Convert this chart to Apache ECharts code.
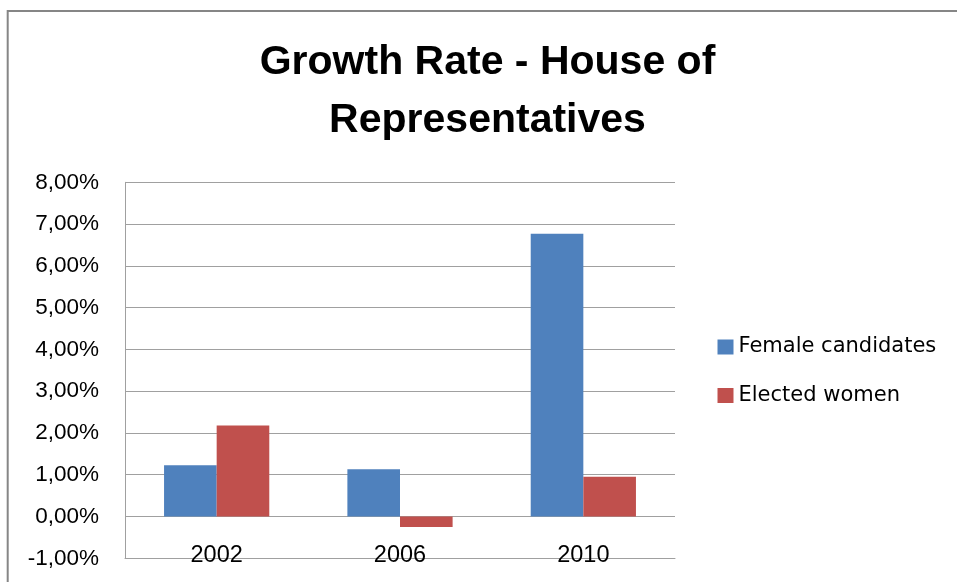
<!DOCTYPE html>
<html>
<head>
<meta charset="utf-8">
<title>Growth Rate - House of Representatives</title>
<script src="https://cdn.jsdelivr.net/npm/echarts@6/dist/echarts.min.js"></script>
<style>
  html, body { margin: 0; padding: 0; background: #ffffff; }
  #chart { width: 957px; height: 582px; }
</style>
</head>
<body>
<div id="chart"></div>
<script>
// Election years on the category axis
const years = ['2002', '2006', '2010'];

// Growth rates, in percent
const femaleCandidates = [1.23, 1.13, 6.77];
const electedWomen = [2.18, -0.25, 0.95];

// Value axis range and step, in percent
const yMin = -1;
const yMax = 8;
const yStep = 1;

const seriesNames = ['Female candidates', 'Elected women'];
const seriesColors = ['#4F81BD', '#C0504D'];

const chart = echarts.init(document.getElementById('chart'), null, { renderer: 'canvas' });

const pct = v => v.toFixed(2).replace('.', ',') + '%';

chart.setOption({
  animation: false,
  backgroundColor: '#ffffff',
  graphic: [{
    type: 'rect',
    shape: { x: 7.7, y: 11, width: 1200, height: 1200 },
    style: { fill: 'none', stroke: '#868686', lineWidth: 2 },
    silent: true
  }],
  title: {
    text: 'Growth Rate - House of\nRepresentatives',
    left: 487.5,
    top: 34,
    textAlign: 'center',
    padding: 0,
    textStyle: {
      fontFamily: 'Liberation Sans',
      fontWeight: 'bold',
      fontSize: 41,
      lineHeight: 57.5,
      color: '#000000'
    }
  },
  legend: {
    orient: 'vertical',
    left: 717.5,
    top: 336.5,
    padding: 0,
    itemWidth: 16,
    itemHeight: 15,
    itemGap: 27.5,
    icon: 'rect',
    data: seriesNames,
    textStyle: {
      fontFamily: 'DejaVu Sans',
      fontSize: 21,
      color: '#000000'
    }
  },
  grid: {
    left: 125,
    right: 282,
    top: 182.3,
    bottom: 23.7,
    containLabel: false,
    outerBoundsMode: 'none'
  },
  xAxis: {
    type: 'category',
    data: years,
    axisLine: { show: true, onZero: false, lineStyle: { color: '#a0a0a0', width: 1 } },
    axisTick: { show: false },
    axisLabel: {
      show: true,
      margin: -15,
      fontFamily: 'Liberation Sans',
      fontSize: 23.5,
      color: '#000000'
    },
    splitLine: { show: false }
  },
  yAxis: {
    type: 'value',
    min: yMin,
    max: yMax,
    interval: yStep,
    axisLine: { show: true, lineStyle: { color: '#a0a0a0', width: 1 } },
    axisTick: { show: false },
    axisLabel: {
      margin: 26,
      fontFamily: 'Liberation Sans',
      fontSize: 22.5,
      color: '#000000',
      padding: [5, 0, 0, 0],
      formatter: pct
    },
    splitLine: { show: true, lineStyle: { color: '#a0a0a0', width: 1 } }
  },
  series: [
    {
      name: seriesNames[0],
      type: 'bar',
      data: femaleCandidates,
      itemStyle: { color: seriesColors[0] },
      barGap: '0%',
      barCategoryGap: '42.6%'
    },
    {
      name: seriesNames[1],
      type: 'bar',
      data: electedWomen,
      itemStyle: { color: seriesColors[1] },
      barGap: '0%',
      barCategoryGap: '42.6%'
    }
  ]
});
</script>
</body>
</html>
